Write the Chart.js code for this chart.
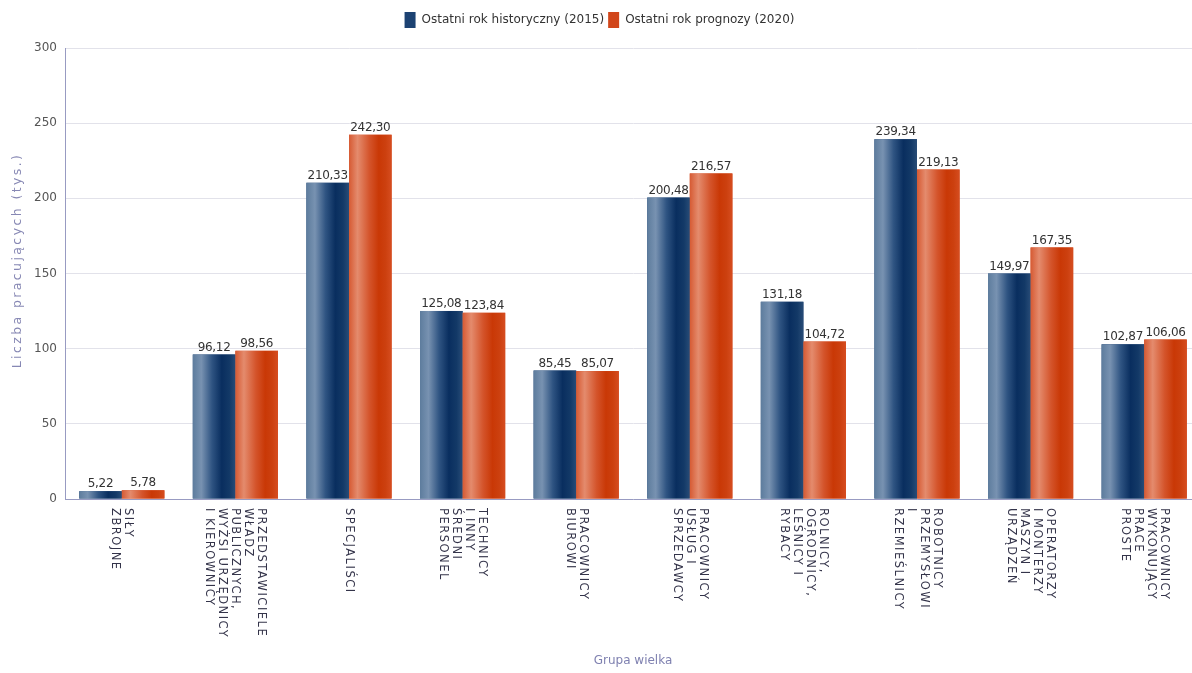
<!DOCTYPE html>
<html><head><meta charset="utf-8">
<script src="https://cdn.jsdelivr.net/npm/chart.js@4/dist/chart.umd.min.js"></script>
<style>html,body{margin:0;padding:0;background:#fff;overflow:hidden;width:1192px;height:673px}#wrap{width:1201px;height:673px;position:relative}</style>
</head><body><div id="wrap"><canvas id="c"></canvas></div>
<script>
const categories = [
  ["SIŁY","ZBROJNE"],
  ["PRZEDSTAWICIELE","WŁADZ","PUBLICZNYCH,","WYŻSI URZĘDNICY","I KIEROWNICY"],
  ["SPECJALIŚCI"],
  ["TECHNICY","I INNY","ŚREDNI","PERSONEL"],
  ["PRACOWNICY","BIUROWI"],
  ["PRACOWNICY","USŁUG I","SPRZEDAWCY"],
  ["ROLNICY,","OGRODNICY,","LEŚNICY I","RYBACY"],
  ["ROBOTNICY","PRZEMYSŁOWI","I","RZEMIEŚLNICY"],
  ["OPERATORZY","I MONTERZY","MASZYN I","URZĄDZEŃ"],
  ["PRACOWNICY","WYKONUJĄCY","PRACE","PROSTE"]
];
const series2015 = [5.22, 96.12, 210.33, 125.08, 85.45, 200.48, 131.18, 239.34, 149.97, 102.87];
const series2020 = [5.78, 98.56, 242.30, 123.84, 85.07, 216.57, 104.72, 219.13, 167.35, 106.06];
const seriesNames = ["Ostatni rok historyczny (2015)", "Ostatni rok prognozy (2020)"];
const yTickValues = [0, 50, 100, 150, 200, 250, 300];
const xTitle = "Grupa wielka";
const yTitle = "Liczba pracujących (tys.)";

const FONT = "'DejaVu Sans', sans-serif";
const gradStops = [
  [[0,'#5d7c9d'],[0.2,'#7892b1'],[0.45,'#2f5482'],[0.68,'#092e5f'],[0.86,'#133967'],[1,'#284c77']],
  [[0,'#d65a33'],[0.2,'#e48b6d'],[0.48,'#d4542b'],[0.7,'#c93806'],[0.86,'#cc400f'],[1,'#d64d20']]
];
const solid = ['#1c4272','#d1461a'];

function fmt(v){ return v.toFixed(2).replace('.', ','); }

const drawPlugin = {
  id: 'custom',
  afterInit(chart){
    const lg = chart.legend;
    if (lg) {
      const origFit = lg.fit.bind(lg);
      lg.fit = function(){ origFit(); this.height += 10; };
      const origDraw = lg.draw.bind(lg);
      lg.draw = function(){ const c = this.ctx; c.save(); c.translate(-1, 0); origDraw(); c.restore(); };
    }
  },
  afterDatasetsDraw(chart){
    const ctx = chart.ctx;
    ctx.save();
    chart.data.datasets.forEach((ds, di) => {
      const meta = chart.getDatasetMeta(di);
      meta.data.forEach((el) => {
        const p = el.getProps(['x','y','base','width'], true);
        const x0 = p.x - p.width/2, x1 = p.x + p.width/2;
        const g = ctx.createLinearGradient(x0, 0, x1, 0);
        gradStops[di].forEach(s => g.addColorStop(s[0], s[1]));
        ctx.fillStyle = g;
        ctx.fillRect(x0, p.y, p.width, p.base - p.y);
      });
    });
    ctx.font = "12px " + FONT;
    ctx.fillStyle = '#333333';
    ctx.textAlign = 'center';
    ctx.textBaseline = 'bottom';
    try { ctx.letterSpacing = '-0.3px'; } catch(e) {}
    chart.data.datasets.forEach((ds, di) => {
      const meta = chart.getDatasetMeta(di);
      meta.data.forEach((el, i) => {
        const p = el.getProps(['x','y'], true);
        ctx.fillText(fmt(ds.data[i]), p.x, p.y - 1);
      });
    });
    ctx.restore();
  },
  afterDraw(chart){
    const ctx = chart.ctx;
    const xs = chart.scales.x;
    ctx.save();
    ctx.font = "11.5px " + FONT;
    ctx.fillStyle = '#34344a';
    ctx.textAlign = 'left';
    ctx.textBaseline = 'middle';
    try { ctx.letterSpacing = '1.5px'; } catch(e) {}
    const lh = 13;
    categories.forEach((lines, i) => {
      const cx = xs.getPixelForValue(i);
      const n = lines.length;
      ctx.save();
      ctx.translate(cx, xs.top + 9);
      ctx.rotate(Math.PI/2);
      lines.forEach((t, k) => {
        ctx.fillText(t, 0, (k - (n-1)/2) * lh);
      });
      ctx.restore();
    });
    const ys = chart.scales.y;
    ctx.font = "12.5px " + FONT;
    ctx.fillStyle = '#8788b4';
    ctx.textAlign = 'center';
    try { ctx.letterSpacing = '2.4px'; } catch(e) {}
    ctx.translate(18, (ys.top + ys.bottom)/2 - 13);
    ctx.rotate(-Math.PI/2);
    ctx.fillText(yTitle, 0, 0);
    ctx.restore();
  }
};

const chart = new Chart(document.getElementById('c'), {
  type: 'bar',
  data: {
    labels: categories,
    datasets: [
      { label: seriesNames[0], data: series2015, backgroundColor: solid[0], borderWidth: 0, categoryPercentage: 0.75, barPercentage: 1 },
      { label: seriesNames[1], data: series2020, backgroundColor: solid[1], borderWidth: 0, categoryPercentage: 0.75, barPercentage: 1 }
    ]
  },
  options: {
    responsive: true,
    maintainAspectRatio: false,
    animation: false,
    layout: { padding: { top: 8, left: 0, right: 0, bottom: 0 } },
    plugins: {
      tooltip: { enabled: false },
      legend: {
        position: 'top',
        labels: {
          font: { family: FONT, size: 12 },
          color: '#333333',
          boxWidth: 11,
          boxHeight: 16,
          padding: 4
        }
      }
    },
    scales: {
      x: {
        grid: { display: false },
        border: { display: true, color: '#989bc2', width: 1 },
        ticks: { display: false },
        title: { display: true, text: xTitle, color: '#7f81b0', font: { family: FONT, size: 12 }, padding: { top: 4, bottom: 5 } },
        afterFit(scale){ scale.height = 174; }
      },
      y: {
        min: 0, max: 300,
        afterBuildTicks(scale){ scale.ticks = yTickValues.map(v => ({ value: v })); },
        ticks: { color: '#555555', font: { family: FONT, size: 12 }, padding: 8 },
        grid: { color: '#e2e2ea', drawTicks: false },
        border: { display: true, color: '#989bc2', width: 1 },
        title: { display: false },
        afterFit(scale){ scale.width = 65; }
      }
    }
  },
  plugins: [drawPlugin]
});
</script>
</body></html>
